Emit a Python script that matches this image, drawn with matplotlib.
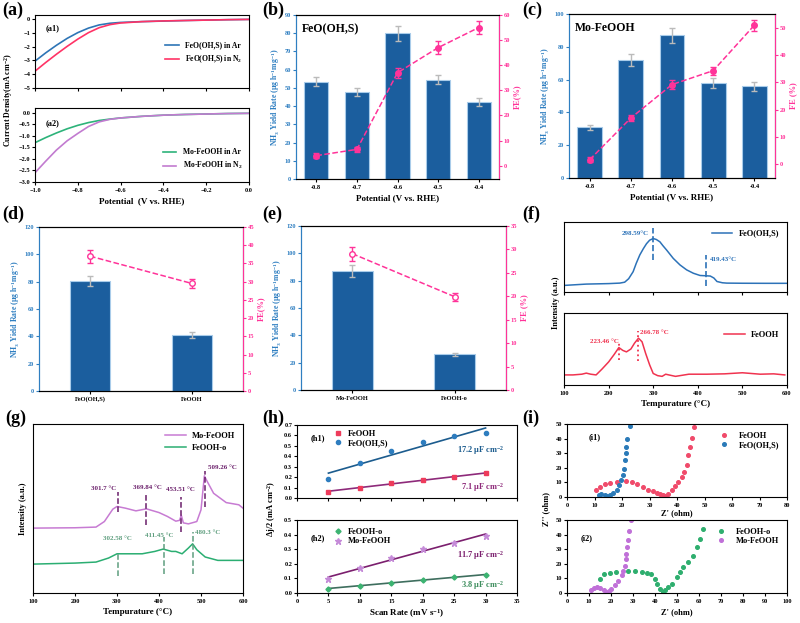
import numpy as np
import matplotlib
matplotlib.use('Agg')
import matplotlib.pyplot as plt

plt.rcParams['font.family'] = ['Liberation Serif', 'DejaVu Serif']
plt.rcParams['font.weight'] = 'bold'
plt.rcParams['axes.labelweight'] = 'bold'
plt.rcParams['font.size'] = 6
plt.rcParams['xtick.labelsize'] = 4.6
plt.rcParams['ytick.labelsize'] = 4.6
plt.rcParams['axes.linewidth'] = 0.8
plt.rcParams['xtick.major.size'] = 2
plt.rcParams['ytick.major.size'] = 2
plt.rcParams['xtick.major.pad'] = 2
plt.rcParams['ytick.major.pad'] = 1.5
plt.rcParams['mathtext.default'] = 'regular'

# ---- data ----
# (a) LSV
pot = [-1.0, -0.95, -0.9, -0.85, -0.8, -0.75, -0.7, -0.65, -0.6, -0.5, -0.4, -0.3, -0.2, -0.1, 0.0]
a1_ar = [-3.05, -2.45, -1.9, -1.4, -0.98, -0.65, -0.42, -0.3, -0.24, -0.18, -0.14, -0.1, -0.07, -0.04, -0.02]
a1_n2 = [-3.78, -3.15, -2.55, -1.98, -1.45, -0.98, -0.62, -0.4, -0.28, -0.18, -0.13, -0.1, -0.07, -0.04, -0.02]
a2_ar = [-1.3, -1.08, -0.88, -0.7, -0.55, -0.43, -0.34, -0.28, -0.23, -0.16, -0.11, -0.08, -0.06, -0.04, -0.03]
a2_n2 = [-2.6, -2.1, -1.62, -1.22, -0.9, -0.6, -0.4, -0.29, -0.23, -0.16, -0.11, -0.08, -0.06, -0.04, -0.03]

# (b), (c) yield rate / FE vs potential
pot_lbl = ['-0.8', '-0.7', '-0.6', '-0.5', '-0.4']
b_rate = [53.5, 48, 80, 54.5, 42.3]
b_rate_err = [2.5, 2.2, 4, 2.5, 2]
b_fe = [4, 6.5, 37, 47, 55]
b_fe_err = [1, 1, 2, 2.5, 2.5]
c_rate = [31, 72, 87, 58, 55.8]
c_rate_err = [1.5, 3.5, 4.5, 3, 2.5]
c_fe = [1.6, 16.9, 29.2, 34.3, 51]
c_fe_err = [1, 1, 1.5, 1.5, 2]

# (d), (e) comparison
d_cat = ['FeO(OH,S)', 'FeOOH']
d_rate = [80.5, 41]
d_rate_err = [4, 2]
d_fe = [37, 29.5]
d_fe_err = [1.8, 1.2]
e_cat = ['Mo-FeOOH', 'FeOOH-o']
e_rate = [87, 26]
e_rate_err = [4.5, 1]
e_fe = [29.1, 19.9]
e_fe_err = [1.5, 0.8]

# (f) TPD
f1_t = [100, 150, 200, 225, 236, 245, 255, 262, 270, 278, 285, 292, 300, 307, 315, 322, 330, 345, 360, 375, 390, 405, 420, 428, 436, 443, 455, 465, 500, 550, 600]
f1_i = [0.094, 0.113, 0.12, 0.127, 0.14, 0.19, 0.29, 0.41, 0.53, 0.62, 0.69, 0.74, 0.764, 0.75, 0.717, 0.66, 0.6, 0.48, 0.387, 0.316, 0.268, 0.236, 0.231, 0.228, 0.2, 0.15, 0.132, 0.127, 0.125, 0.124, 0.124]
f2_t = [100, 120, 140, 150, 160, 172, 185, 200, 212, 223, 232, 240, 250, 258, 267, 275, 283, 292, 300, 310, 320, 328, 335, 350, 380, 420, 460, 500, 540, 570, 595]
f2_i = [0.14, 0.14, 0.15, 0.165, 0.15, 0.14, 0.22, 0.32, 0.42, 0.52, 0.48, 0.46, 0.5, 0.58, 0.65, 0.6, 0.44, 0.28, 0.16, 0.13, 0.12, 0.15, 0.14, 0.12, 0.15, 0.15, 0.155, 0.17, 0.15, 0.155, 0.14]

# (g) TPD
g_mo_t = [100, 200, 250, 270, 290, 300, 320, 345, 370, 400, 420, 440, 449, 453, 458, 470, 490, 500, 508, 515, 530, 560, 590, 600]
g_mo_i = [0.384, 0.386, 0.39, 0.423, 0.496, 0.512, 0.502, 0.486, 0.498, 0.476, 0.453, 0.425, 0.43, 0.46, 0.415, 0.409, 0.423, 0.492, 0.693, 0.659, 0.59, 0.535, 0.522, 0.502]
g_o_t = [100, 200, 250, 280, 300, 320, 360, 390, 410, 430, 440, 455, 470, 480, 490, 510, 540, 600]
g_o_i = [0.171, 0.177, 0.183, 0.207, 0.232, 0.232, 0.232, 0.246, 0.26, 0.246, 0.246, 0.232, 0.266, 0.291, 0.256, 0.213, 0.193, 0.193]

# (h) double layer capacitance
scan = [5, 10, 15, 20, 25, 30]
h_feooh = [0.06, 0.1, 0.14, 0.175, 0.205, 0.235]
h_feohs = [0.185, 0.34, 0.455, 0.535, 0.59, 0.625]
h_o = [0.03, 0.05, 0.07, 0.09, 0.108, 0.125]
h_mo = [0.095, 0.17, 0.24, 0.3, 0.345, 0.39]

# (i) Nyquist
i_feooh_x = [10.7, 11.9, 13.7, 15.8, 18, 21.4, 23.5, 25.5, 27.5, 29.4, 31.1, 32.6, 33.8, 34.8, 35.6, 36.8, 38, 39.3, 40.5, 41.7, 42.7, 43.5, 44.1, 44.7, 45.3, 46]
i_feooh_y = [5, 6.9, 8.7, 9.6, 10.3, 10.8, 10.5, 8.7, 6.9, 5, 4.1, 2.75, 2.3, 1.1, 0.5, 1.8, 4.6, 7.3, 10.3, 13.8, 17.2, 21.8, 28.7, 34.4, 40.1, 48.2]
i_feohs_x = [11.7, 12.5, 13.7, 14.6, 15.6, 16.8, 18, 19, 19.7, 20.2, 20.7, 21, 21.4, 21.6, 21.9, 22.9]
i_feohs_y = [1.1, 1.8, 1.1, 0.5, 1.1, 2.75, 5, 8, 11.5, 14.9, 19.5, 25.2, 29.8, 34.4, 40, 48.6]
i_o_x = [14.9, 16.7, 19.5, 22.2, 27.8, 30.9, 33.9, 36.2, 38, 40, 41, 42.2, 43.5, 44.7, 46, 47.6, 49.8, 51.4, 52.9, 55.2, 57.1, 59, 60.5, 62]
i_o_y = [9.7, 12.7, 13.6, 14.3, 15.4, 14.9, 14.3, 13.6, 12.7, 9.7, 6.3, 2.9, 0.7, 1.8, 4.1, 6.3, 10.9, 14.3, 17.6, 21, 25.6, 31.2, 36.9, 43.7]
i_mo_x = [11.1, 12.2, 13.7, 15.2, 16.7, 17.9, 19.1, 20.2, 21.7, 23.3, 24.8, 25.5, 26.3, 26.7, 27, 27.4, 27.8, 28.1, 29]
i_mo_y = [1.8, 3.6, 4.1, 3.6, 2.3, 0.7, 1.4, 2.9, 5.2, 8.1, 12, 15.4, 18.8, 23.3, 26.7, 31.2, 36.2, 42.5, 50]

BAR = '#1B5E9E'
BAR_EDGE = '#A9CCEA'
PINK = '#FF3399'
LBLUE = '#2F7FC1'

fig = plt.figure(figsize=(8, 6.23), dpi=100)


def box(x0, y0, x1, y1):
    return [x0 / 800, 1 - y1 / 623, (x1 - x0) / 800, (y1 - y0) / 623]


def letter(x, y, s):
    fig.text(x / 800, 1 - y / 623, s, fontsize=13, fontweight='bold', va='top', ha='left')


# ---------------- (a) ----------------
a1 = fig.add_axes(box(35, 15, 249, 88))
a1.plot(pot, a1_ar, color='#2E75B6', lw=1.2, label='FeO(OH,S) in Ar')
a1.plot(pot, a1_n2, color='#FF3366', lw=1.2, label='FeO(OH,S) in N$_2$')
a1.set_xlim(-1.0, 0.0)
a1.set_ylim(-5, 0.3)
a1.set_yticks([0, -1, -2, -3, -4, -5])
a1.tick_params(labelbottom=False)
a1.text(0.05, 0.88, '(a1)', transform=a1.transAxes, fontsize=6, va='top')
a1.legend(loc='lower right', frameon=False, fontsize=5.5, handlelength=1.8, bbox_to_anchor=(1.0, 0.22))

a2 = fig.add_axes(box(35, 108, 249, 182))
a2.plot(pot, a2_ar, color='#2DB37A', lw=1.2, label='Mo-FeOOH in Ar')
a2.plot(pot, a2_n2, color='#C27BD0', lw=1.2, label='Mo-FeOOH in N$_2$')
a2.set_xlim(-1.0, 0.0)
a2.set_ylim(-3.0, 0.2)
a2.set_yticks([0.0, -0.5, -1.0, -1.5, -2.0, -2.5, -3.0])
a2.set_xticks([-1.0, -0.8, -0.6, -0.4, -0.2, 0.0])
a2.text(0.05, 0.85, '(a2)', transform=a2.transAxes, fontsize=6, va='top')
a2.legend(loc='lower right', frameon=False, fontsize=5.5, handlelength=1.8, bbox_to_anchor=(1.0, 0.05))
a2.set_xlabel('Potential  (V vs. RHE)', fontsize=6.5, labelpad=3)
fig.text(9 / 800, 1 - 100 / 623, 'Current Density(mA cm$^{-2}$)', rotation=90, va='center', ha='center', fontsize=5.8)
letter(2, 2, '(a)')


# ---------------- (b), (c), (d), (e) bar + FE ----------------
def bar_fe(rect, cats, rate, rate_err, fe, fe_err, ylim_l, yticks_l, ylim_r, yticks_r, title, width, open_mk, fe_label, xlabel):
    ax = fig.add_axes(rect)
    x = np.arange(len(cats))
    ax.bar(x, rate, width=width, color=BAR, edgecolor=BAR_EDGE, lw=0.8, zorder=2)
    ax.errorbar(x, rate, yerr=rate_err, fmt='none', ecolor='#BBBBBB', elinewidth=1, capsize=2, capthick=1, zorder=3)
    ax.set_xticks(x)
    ax.set_xticklabels(cats)
    ax.set_ylim(*ylim_l)
    ax.set_yticks(yticks_l)
    ax.set_xlim(-0.5, len(cats) - 0.5)
    ax.spines['left'].set_color(LBLUE)
    ax.tick_params(axis='y', colors=LBLUE)
    ax.set_ylabel('NH$_3$ Yield Rate (μg h$^{-1}$mg$^{-1}$)', color=LBLUE, fontsize=5.6, labelpad=2)
    ax2 = ax.twinx()
    mfc = 'white' if open_mk else PINK
    ax2.errorbar(x, fe, yerr=fe_err, fmt='o--', color=PINK, mfc=mfc, mec=PINK, ms=4, lw=1.1,
                 elinewidth=1, capsize=2, capthick=1, zorder=4)
    ax2.set_ylim(*ylim_r)
    ax2.set_yticks(yticks_r)
    ax2.spines['right'].set_color(PINK)
    ax2.spines['left'].set_color(LBLUE)
    ax2.tick_params(axis='y', colors=PINK)
    ax2.set_ylabel(fe_label, color=PINK, fontsize=6, labelpad=2)
    if title:
        ax.text(0.03, 0.95, title, transform=ax.transAxes, fontsize=8.5, va='top')
    if xlabel:
        ax.set_xlabel(xlabel, fontsize=6.5, labelpad=3)
    return ax


bar_fe(box(296, 15, 499, 179), pot_lbl, b_rate, b_rate_err, b_fe, b_fe_err,
       (0, 90), range(0, 91, 10), (-5.3, 60), range(0, 61, 10), 'FeO(OH,S)', 0.6, False, 'FE(%)',
       'Potential (V vs. RHE)')
letter(262, 2, '(b)')

bar_fe(box(569, 14, 775, 178), pot_lbl, c_rate, c_rate_err, c_fe, c_fe_err,
       (0, 100), range(0, 101, 20), (-5.1, 55.1), range(0, 51, 10), 'Mo-FeOOH', 0.6, False, 'FE (%)',
       'Potential (V vs. RHE)')
letter(522, 2, '(c)')

bar_fe(box(39, 227, 243, 391), d_cat, d_rate, d_rate_err, d_fe, d_fe_err,
       (0, 120), range(0, 121, 20), (0, 45), range(0, 46, 5), None, 0.4, True, 'FE(%)', None)
letter(2, 206, '(d)')

bar_fe(box(301, 226, 506, 390), e_cat, e_rate, e_rate_err, e_fe, e_fe_err,
       (0, 120), range(0, 121, 20), (0, 35), range(0, 36, 5), None, 0.4, True, 'FE (%)', None)
letter(262, 206, '(e)')

# ---------------- (f) ----------------
f1 = fig.add_axes(box(564, 222, 787, 292))
f1.plot(f1_t, f1_i, color='#2C72B8', lw=1.1, label='FeO(OH,S)')
f1.set_xlim(100, 600)
f1.set_ylim(0, 1)
f1.set_yticks([])
f1.set_xticks(range(100, 601, 100))
f1.tick_params(labelbottom=False)
f1.vlines(298.59, 0.46, 0.92, colors='#2C72B8', linestyles='--', lw=1.2)
f1.vlines(419.43, 0.08, 0.53, colors='#2C72B8', linestyles='--', lw=1.2)
f1.text(290, 0.83, '298.59°C', color='#2C72B8', fontsize=5, ha='right', va='center')
f1.text(428, 0.47, '419.43°C', color='#2C72B8', fontsize=5, ha='left', va='center')
f1.legend(loc='upper right', frameon=False, fontsize=6, handlelength=2.5)

f2 = fig.add_axes(box(564, 313, 787, 385))
f2.plot(f2_t, f2_i, color='#F0334F', lw=1.1, label='FeOOH')
f2.set_xlim(100, 600)
f2.set_ylim(0, 1)
f2.set_yticks([])
f2.set_xticks(range(100, 601, 100))
f2.vlines(223.46, 0.35, 0.58, colors='#F0334F', linestyles=':', lw=1.3)
f2.vlines(266.78, 0.33, 0.75, colors='#F0334F', linestyles=':', lw=1.3)
f2.text(222, 0.6, '223.46 °C', color='#F0334F', fontsize=5, ha='right', va='center')
f2.text(270, 0.73, '266.78 °C', color='#F0334F', fontsize=5, ha='left', va='center')
f2.legend(loc='upper right', frameon=False, fontsize=6, handlelength=2.5, bbox_to_anchor=(1.0, 0.85))
f2.set_xlabel('Tempurature (°C)', fontsize=6.5, labelpad=3)
fig.text(556 / 800, 1 - 303 / 623, 'Intensity (a.u.)', rotation=90, va='center', ha='center', fontsize=6)
letter(522, 206, '(f)')

# ---------------- (g) ----------------
g = fig.add_axes(box(33, 424, 243, 593))
g.plot(g_mo_t, g_mo_i, color='#C77BD3', lw=1.1, label='Mo-FeOOH')
g.plot(g_o_t, g_o_i, color='#2BAE72', lw=1.1, label='FeOOH-o')
g.set_xlim(100, 600)
g.set_ylim(0, 1)
g.set_yticks([])
g.set_xticks(range(100, 601, 100))
mo_c = '#6A1E6A'
g.vlines(301.7, 0.48, 0.60, colors=mo_c, linestyles='--', lw=1.1)
g.vlines(369.84, 0.40, 0.59, colors=mo_c, linestyles='--', lw=1.1)
g.vlines(453.51, 0.36, 0.57, colors=mo_c, linestyles='--', lw=1.1)
g.vlines(509.26, 0.51, 0.72, colors=mo_c, linestyles='--', lw=1.1)
g.text(298, 0.62, '301.7 °C', color=mo_c, fontsize=5, ha='right', va='center')
g.text(372, 0.625, '369.84 °C', color=mo_c, fontsize=5, ha='center', va='center')
g.text(451, 0.615, '453.51 °C', color=mo_c, fontsize=5, ha='center', va='center')
g.text(516, 0.745, '509.26 °C', color=mo_c, fontsize=5, ha='left', va='center')
o_c = '#5E9E7E'
g.vlines(302.58, 0.10, 0.24, colors=o_c, linestyles='--', lw=1.1)
g.vlines(411.45, 0.11, 0.33, colors=o_c, linestyles='--', lw=1.1)
g.vlines(480.3, 0.11, 0.36, colors=o_c, linestyles='--', lw=1.1)
g.text(300, 0.325, '302.58 °C', color=o_c, fontsize=5, ha='center', va='center')
g.text(400, 0.34, '411.45 °C', color=o_c, fontsize=5, ha='center', va='center')
g.text(516, 0.36, '480.3 °C', color=o_c, fontsize=5, ha='center', va='center')
g.legend(loc='upper right', frameon=False, fontsize=6, handlelength=2.5)
g.set_xlabel('Tempurature (°C)', fontsize=6.5, labelpad=3)
g.set_ylabel('Intensity (a.u.)', fontsize=6, labelpad=4)
letter(5, 410, '(g)')

# ---------------- (h) ----------------
h1 = fig.add_axes(box(297, 425, 517, 498))
k, b0 = np.polyfit(scan, h_feohs, 1)
h1.plot([5, 30], [k * 5 + b0, k * 30 + b0], color='#1C5C8E', lw=1.2)
k, b0 = np.polyfit(scan, h_feooh, 1)
h1.plot([5, 30], [k * 5 + b0, k * 30 + b0], color='#8E2A7A', lw=1.2)
h1.plot(scan, h_feooh, 's', color='#EE3B5B', ms=3, label='FeOOH')
h1.plot(scan, h_feohs, 'o', color='#2E7DBF', ms=3, label='FeO(OH,S)')
h1.set_xlim(0, 35)
h1.set_ylim(0, 0.7)
h1.set_yticks(np.arange(0, 0.71, 0.1))
h1.set_xticks(range(0, 36, 5))
h1.tick_params(labelbottom=False)
h1.text(0.06, 0.88, '(h1)', transform=h1.transAxes, fontsize=6, va='top')
h1.text(33, 0.46, '17.2 μF cm$^{-2}$', color='#1C5C8E', fontsize=6, ha='right', va='center')
h1.text(33, 0.1, '7.1 μF cm$^{-2}$', color='#8E2A7A', fontsize=6, ha='right', va='center')
h1.legend(loc='upper left', frameon=False, fontsize=6, handletextpad=0.6, handlelength=1.2,
          bbox_to_anchor=(0.13, 1.04), labelspacing=0.15)

h2 = fig.add_axes(box(297, 520, 517, 593))
k, b0 = np.polyfit(scan, h_mo, 1)
h2.plot([5, 30], [k * 5 + b0, k * 30 + b0], color='#7B1F6E', lw=1.2)
k, b0 = np.polyfit(scan, h_o, 1)
h2.plot([5, 30], [k * 5 + b0, k * 30 + b0], color='#3E6E5E', lw=1.2)
h2.plot(scan, h_o, 'D', color='#3CB371', ms=2.6, label='FeOOH-o')
h2.plot(scan, h_mo, '*', color='#C58BD8', ms=4.5, label='Mo-FeOOH')
h2.set_xlim(0, 35)
h2.set_ylim(0, 0.5)
h2.set_yticks(np.arange(0, 0.51, 0.1))
h2.set_xticks(range(0, 36, 5))
h2.text(0.06, 0.8, '(h2)', transform=h2.transAxes, fontsize=6, va='top')
h2.text(33, 0.26, '11.7 μF cm$^{-2}$', color='#7B1F6E', fontsize=6, ha='right', va='center')
h2.text(33, 0.05, '3.8 μF cm$^{-2}$', color='#3E8E5E', fontsize=6, ha='right', va='center')
h2.legend(loc='upper left', frameon=False, fontsize=6, handletextpad=0.6, handlelength=1.2,
          bbox_to_anchor=(0.13, 0.99), labelspacing=0.15)
h2.set_xlabel('Scan Rate (mV s$^{-1}$)', fontsize=6.5, labelpad=3)
fig.text(272 / 800, 1 - 509 / 623, 'Δj/2 (mA cm$^{-2}$)', rotation=90, va='center', ha='center', fontsize=6)
letter(262, 410, '(h)')

# ---------------- (i) ----------------
i1 = fig.add_axes(box(567, 424, 787, 497))
i1.plot(i_feooh_x, i_feooh_y, 'o', color='#F04A6A', ms=2.6, label='FeOOH')
i1.plot(i_feohs_x, i_feohs_y, 'o', color='#2A7AB8', ms=2.6, label='FeO(OH,S)')
i1.set_xlim(0, 80)
i1.set_ylim(0, 50)
i1.set_xticks(range(0, 81, 10))
i1.set_yticks(range(0, 51, 10))
i1.text(0.1, 0.88, '(i1)', transform=i1.transAxes, fontsize=6, va='top')
i1.legend(loc='upper right', frameon=False, fontsize=6, labelspacing=0.2)
i1.set_xlabel("Z' (ohm)", fontsize=6, labelpad=1)

i2 = fig.add_axes(box(567, 520, 787, 593))
i2.plot(i_o_x, i_o_y, 'o', color='#2EAE6E', ms=2.6, label='FeOOH-o')
i2.plot(i_mo_x, i_mo_y, 'o', color='#C070D8', ms=2.6, label='Mo-FeOOH')
i2.set_xlim(0, 100)
i2.set_ylim(0, 50)
i2.set_xticks(range(0, 101, 10))
i2.set_yticks(range(0, 51, 10))
i2.text(0.06, 0.8, '(i2)', transform=i2.transAxes, fontsize=6, va='top')
i2.legend(loc='upper right', frameon=False, fontsize=6, labelspacing=0.2)
i2.set_xlabel("Z' (ohm)", fontsize=6, labelpad=3)
fig.text(546 / 800, 1 - 509 / 623, "Z'' (ohm)", rotation=90, va='center', ha='center', fontsize=6)
letter(522, 410, '(i)')

fig.savefig('out.png', dpi=100)
